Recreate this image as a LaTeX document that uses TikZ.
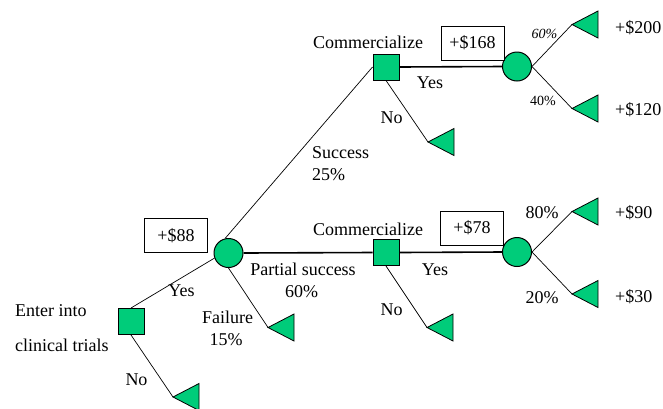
\documentclass[tikz,border=0pt]{standalone}
\usepackage{fontspec}
\setmainfont{Liberation Serif}
\definecolor{nodegreen}{RGB}{0,204,122}
\begin{document}
\begin{tikzpicture}[x=1pt,y=-1pt, font=\fontsize{18}{21}\selectfont,
  dec/.style={draw, fill=nodegreen, minimum size=26pt, inner sep=0pt, line width=1pt},
  chance/.style={draw, fill=nodegreen, circle, minimum size=29pt, inner sep=0pt, line width=1pt},
  val/.style={draw, fill=white, minimum width=63pt, minimum height=34pt, inner sep=0pt, line width=0.8pt},
  lbl/.style={inner sep=0pt},
  small/.style={inner sep=0pt, font=\fontsize{14}{16}\selectfont},
  br/.style={line width=0.7pt},
  hbr/.style={line width=1.6pt},
  term/.style={draw, fill=nodegreen, line width=0.8pt, line join=miter}]
\useasboundingbox (0,0) rectangle (663,408);

% decision and chance nodes
\node[dec] (sqA) at (131,321.5) {};
\node[chance] (cA) at (228.5,253) {};
\node[dec] (sqB) at (386,67) {};
\node[dec] (sqC) at (386,252.5) {};
\node[chance] (cB) at (517,66.5) {};
\node[chance] (cC) at (517,252) {};

% terminal tips
\coordinate (tNoA) at (173,397);
\coordinate (tFail) at (268,327.5);
\coordinate (tNoB) at (428,142);
\coordinate (tNoC) at (427,327.5);
\coordinate (t200) at (572,24.5);
\coordinate (t120) at (572,108.5);
\coordinate (t90) at (572,211.5);
\coordinate (t30) at (572,294);

% connectors
\draw[br] (sqA.north) -- (cA.200);
\draw[br] (sqA.south) -- (tNoA);
\draw[br] (cA.103) -- (sqB.west);
\draw[hbr] (cA.east) -- (sqC.west);
\draw[br] (cA.south) -- (tFail);
\draw[hbr] (sqB.east) -- (cB.west);
\draw[br] (sqB.south) -- (tNoB);
\draw[hbr] (sqC.east) -- (cC.west);
\draw[br] (sqC.south) -- (tNoC);
\draw[br] (cB.east) -- (t200);
\draw[br] (cB.east) -- (t120);
\draw[br] (cC.east) -- (t90);
\draw[br] (cC.east) -- (t30);

% terminal triangles
\foreach \t in {tNoA,tFail,tNoB,tNoC,t200,t120,t90,t30}
  \draw[term] (\t) -- ++(26,-13.5) -- ++(0,27) -- cycle;

% value boxes
\node[val] (b88) at (176,235.5) {+\$88};
\node[val] (b168) at (472.5,43) {+\$168};
\node[val] (b78) at (472,228) {+\$78};

% labels
\node[lbl, anchor=base west] (enter1) at (15,316.5) {Enter into};
\node[lbl, anchor=base west] (enter2) at (15,351) {clinical trials};
\node[lbl, anchor=base] (yesA) at (181.5,296) {Yes};
\node[lbl, anchor=base] (noA) at (136.5,385) {No};
\node[lbl, anchor=base] (comB) at (368,48) {Commercialize};
\node[lbl, anchor=base west] (succ) at (312,158) {Success};
\node[lbl, anchor=base west] (succp) at (312,180) {25\%};
\node[lbl, anchor=base] (yesB) at (430,88) {Yes};
\node[lbl, anchor=base] (noB) at (391.5,123) {No};
\node[lbl, anchor=base west] (v200) at (615,33) {+\$200};
\node[lbl, anchor=base west] (v120) at (615,115) {+\$120};
\node[small, anchor=base] (p60) at (544.5,38) {\itshape 60\%};
\node[small, anchor=base] (p40) at (543,105) {40\%};
\node[lbl, anchor=base] (comC) at (368,235) {Commercialize};
\node[lbl, anchor=base] (part) at (303,275) {Partial success};
\node[lbl, anchor=base] (partp) at (301.5,297) {60\%};
\node[lbl, anchor=base] (fail) at (227.5,323) {Failure};
\node[lbl, anchor=base] (failp) at (226,345) {15\%};
\node[lbl, anchor=base] (noC) at (391.5,315) {No};
\node[lbl, anchor=base] (yesC) at (435,275) {Yes};
\node[lbl, anchor=base] (p80) at (542,218) {80\%};
\node[lbl, anchor=base] (p20) at (542,303) {20\%};
\node[lbl, anchor=base west] (v90) at (615,218) {+\$90};
\node[lbl, anchor=base west] (v30) at (615,302) {+\$30};
\end{tikzpicture}
\end{document}
